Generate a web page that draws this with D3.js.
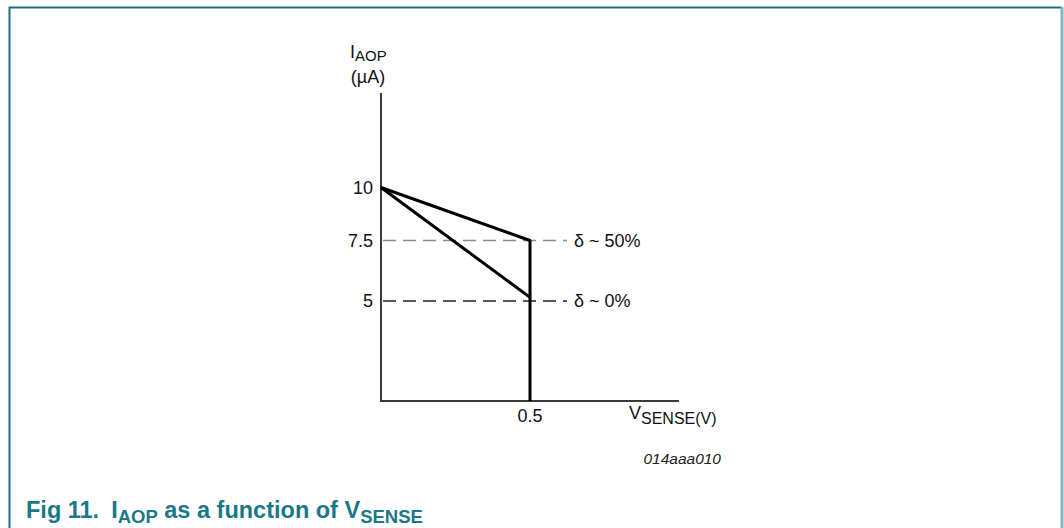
<!DOCTYPE html>
<html>
<head>
<meta charset="utf-8">
<script src="https://cdn.jsdelivr.net/npm/d3@7"></script>
<style>
  body { margin: 0; background: #fff; }
  text { font-family: "Liberation Sans", Arial, sans-serif; }
</style>
</head>
<body>
<svg id="mainSvg" width="1064" height="528"></svg>
<script>
// data
var vsenseStops = [0, 0.5, 1];
var iaopStops = [0, 5, 7.5, 10, 14.5];
var yTickValues = [5, 7.5, 10];
var yTickLabels = ["5", "7.5", "10"];
var xTickValues = [0.5];
var xTickLabels = ["0.5"];

// delta ~ 50% curve and delta ~ 0% curve (V, uA)
var curve50 = [[0, 10], [0.5, 7.5], [0.5, 0]];
var curve0 = [[0, 10], [0.5, 5.15]];

var refLevels = [7.5, 5];
var refLabels = ["\u03b4 ~ 50%", "\u03b4 ~ 0%"];
var refColors = ["#8a8a8a", "#222"];

var svg = d3.select("#mainSvg");

// frame
svg.append("path")
    .attr("d", "M9.5,528 L9.5,7.5 L1062,7.5")
    .attr("fill", "none")
    .attr("stroke", "#1b6e80")
    .attr("stroke-width", 2);
svg.append("line")
    .attr("x1", 1062).attr("x2", 1062)
    .attr("y1", 7).attr("y2", 528)
    .attr("stroke", "#7fb7c4")
    .attr("stroke-width", 3);

// schematic axes (y is piecewise, as in the drawing)
var x = d3.scaleLinear().domain([0, 1]).range([381, 679]);
var y = d3.scaleLinear().domain(iaopStops).range([401, 301, 240.5, 187.5, 93]);

// axis lines
svg.append("line")
    .attr("x1", x(0)).attr("x2", x(0))
    .attr("y1", y(0)).attr("y2", y(14.5))
    .attr("stroke", "#3a3a3a").attr("stroke-width", 2);
svg.append("line")
    .attr("x1", x(0) - 1).attr("x2", x(1))
    .attr("y1", y(0)).attr("y2", y(0))
    .attr("stroke", "#3a3a3a").attr("stroke-width", 2);

// dashed reference lines
svg.selectAll(".refLine")
    .data(refLevels)
    .enter()
    .append("line")
    .attr("class", "refLine")
    .attr("x1", x(0) + 2)
    .attr("x2", 567)
    .attr("y1", function(d){ return y(d); })
    .attr("y2", function(d){ return y(d); })
    .attr("stroke", function(d, i){ return refColors[i]; })
    .attr("stroke-width", 1.5)
    .attr("stroke-dasharray", "13,7");

svg.selectAll(".refLabel")
    .data(refLevels)
    .enter()
    .append("text")
    .attr("class", "refLabel")
    .attr("x", 574)
    .attr("y", function(d){ return y(d); })
    .attr("dy", "0.35em")
    .attr("font-size", "18px")
    .attr("fill", "#111")
    .text(function(d, i){ return refLabels[i]; });

// curves
var line = d3.line()
    .x(function(d){ return x(d[0]); })
    .y(function(d){ return y(d[1]); })
    .curve(d3.curveLinear);

svg.append("path")
    .datum(curve0)
    .attr("d", line)
    .attr("fill", "none")
    .attr("stroke", "#000")
    .attr("stroke-width", 3);

svg.append("path")
    .datum(curve50)
    .attr("d", line)
    .attr("fill", "none")
    .attr("stroke", "#000")
    .attr("stroke-width", 3)
    .attr("stroke-linejoin", "round");

// tick labels
svg.selectAll(".yTick")
    .data(yTickValues)
    .enter()
    .append("text")
    .attr("class", "yTick")
    .attr("x", 373)
    .attr("y", function(d){ return y(d); })
    .attr("dy", "0.35em")
    .attr("text-anchor", "end")
    .attr("font-size", "18px")
    .attr("fill", "#111")
    .text(function(d, i){ return yTickLabels[i]; });

svg.selectAll(".xTick")
    .data(xTickValues)
    .enter()
    .append("text")
    .attr("class", "xTick")
    .attr("x", function(d){ return x(d); })
    .attr("y", y(0) + 21)
    .attr("text-anchor", "middle")
    .attr("font-size", "18px")
    .attr("fill", "#111")
    .text(function(d, i){ return xTickLabels[i]; });

// axis titles
var yTitle = svg.append("text")
    .attr("x", 350).attr("y", 58)
    .attr("font-size", "18px").attr("fill", "#111");
yTitle.append("tspan").text("I");
yTitle.append("tspan").attr("dy", 3).attr("font-size", "15px").text("AOP");
svg.append("text")
    .attr("x", 368).attr("y", 83)
    .attr("text-anchor", "middle")
    .attr("font-size", "18px").attr("fill", "#111")
    .text("(\u00b5A)");

var xTitle = svg.append("text")
    .attr("x", 629).attr("y", 419)
    .attr("font-size", "18px").attr("fill", "#111");
xTitle.append("tspan").text("V");
xTitle.append("tspan").attr("dy", 5).attr("font-size", "16px").text("SENSE(V)");

svg.append("text")
    .attr("x", 721).attr("y", 464)
    .attr("text-anchor", "end")
    .attr("font-size", "15.5px")
    .attr("font-style", "italic")
    .attr("fill", "#222")
    .text("014aaa010");

// caption
var caption = svg.append("text")
    .attr("x", 26).attr("y", 518)
    .attr("font-size", "23.5px")
    .attr("font-weight", "bold")
    .attr("fill", "#1a7888");
caption.append("tspan").text("Fig 11.");
caption.append("tspan").attr("dx", 12).text("I");
caption.append("tspan").attr("dy", 5).attr("font-size", "18.5px").text("AOP");
caption.append("tspan").attr("dy", -5).text(" as a function of V");
caption.append("tspan").attr("dy", 5).attr("font-size", "18.5px").text("SENSE");
</script>
</body>
</html>
